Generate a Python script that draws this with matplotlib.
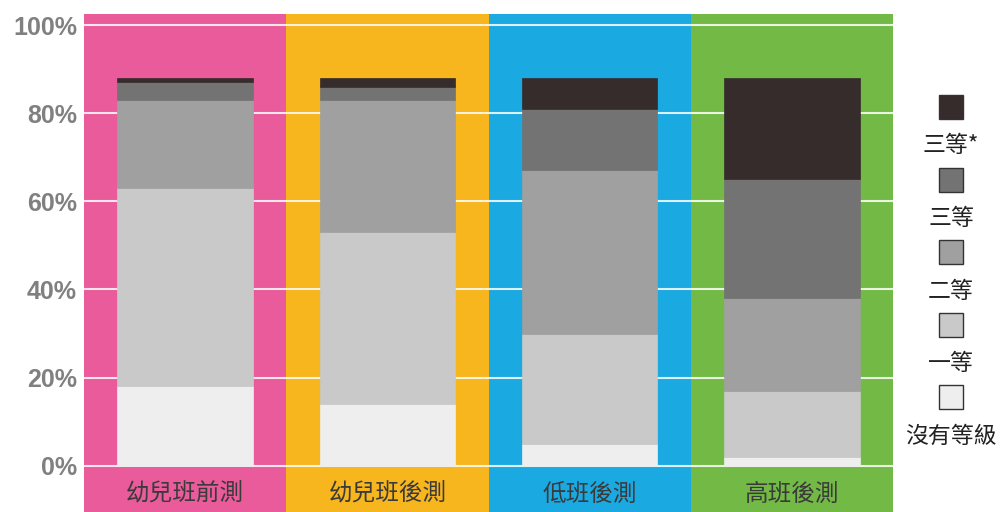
import numpy as np
import matplotlib
matplotlib.use("Agg")
import matplotlib.pyplot as plt
from matplotlib.patches import Rectangle

plt.rcParams['font.family'] = ['Noto Sans CJK TC', 'DejaVu Sans']

# data
groups = ['幼兒班前測', '幼兒班後測', '低班後測', '高班後測']
group_colors = ['#E95B9A', '#F7B51E', '#1BA9E2', '#72BA45']
levels = ['沒有等級', '一等', '二等', '三等', '三等*']
level_colors = ['#EEEEEE', '#C8C9C8', '#A0A0A0', '#737373', '#362C2C']
no_level = [18, 14, 5, 2]
level_1 = [45, 39, 25, 15]
level_2 = [20, 30, 37, 21]
level_3 = [4, 3, 14, 27]
level_3_star = [1, 2, 7, 23]
series = [no_level, level_1, level_2, level_3, level_3_star]
yticks = [0, 20, 40, 60, 80, 100]

fig = plt.figure(figsize=(10.01, 5.12), dpi=100)
ax = fig.add_axes([84 / 1001, 0, 809 / 1001, 498 / 512])

x = np.arange(len(groups))
for i, c in enumerate(group_colors):
    ax.axvspan(i - 0.5, i + 0.5, color=c, zorder=0, lw=0)

for t in yticks:
    ax.axhline(t, color='white', lw=1.5, zorder=1, alpha=0.85)

bottom = np.zeros(len(groups))
for vals, col in zip(series, level_colors):
    ax.bar(x, vals, bottom=bottom, width=0.67, color=col, zorder=2,
           edgecolor=col, lw=0.5)
    bottom += np.array(vals)

for i, g in enumerate(groups):
    ax.text(i, -6.5, g, ha='center', va='center', fontsize=17, color='#3a3a3a')

ax.set_xlim(-0.5, len(groups) - 0.5)
ax.set_ylim(-10.5, 102.5)
ax.set_xticks([])
ax.set_yticks(yticks)
ax.set_yticklabels([f'{t}%' for t in yticks], fontsize=18, fontweight='bold',
                   color='#808080', family='Liberation Sans')
ax.tick_params(axis='y', length=0, pad=5)
for s in ax.spines.values():
    s.set_visible(False)

# legend, top item is the darkest level
W, H = 1001, 512
sq = 24
for k, (lab, col) in enumerate(zip(levels[::-1], level_colors[::-1])):
    cy = 107 + k * 72.5
    fig.add_artist(Rectangle(((951 - sq / 2) / W, 1 - (cy + sq / 2) / H), sq / W, sq / H,
                             transform=fig.transFigure, facecolor=col,
                             edgecolor='#333333', lw=1.0))
    fig.text(951 / W, 1 - (cy + 39) / H, lab, ha='center', va='center',
             fontsize=16.5, color='#222222')

fig.savefig('out.png', dpi=100)
